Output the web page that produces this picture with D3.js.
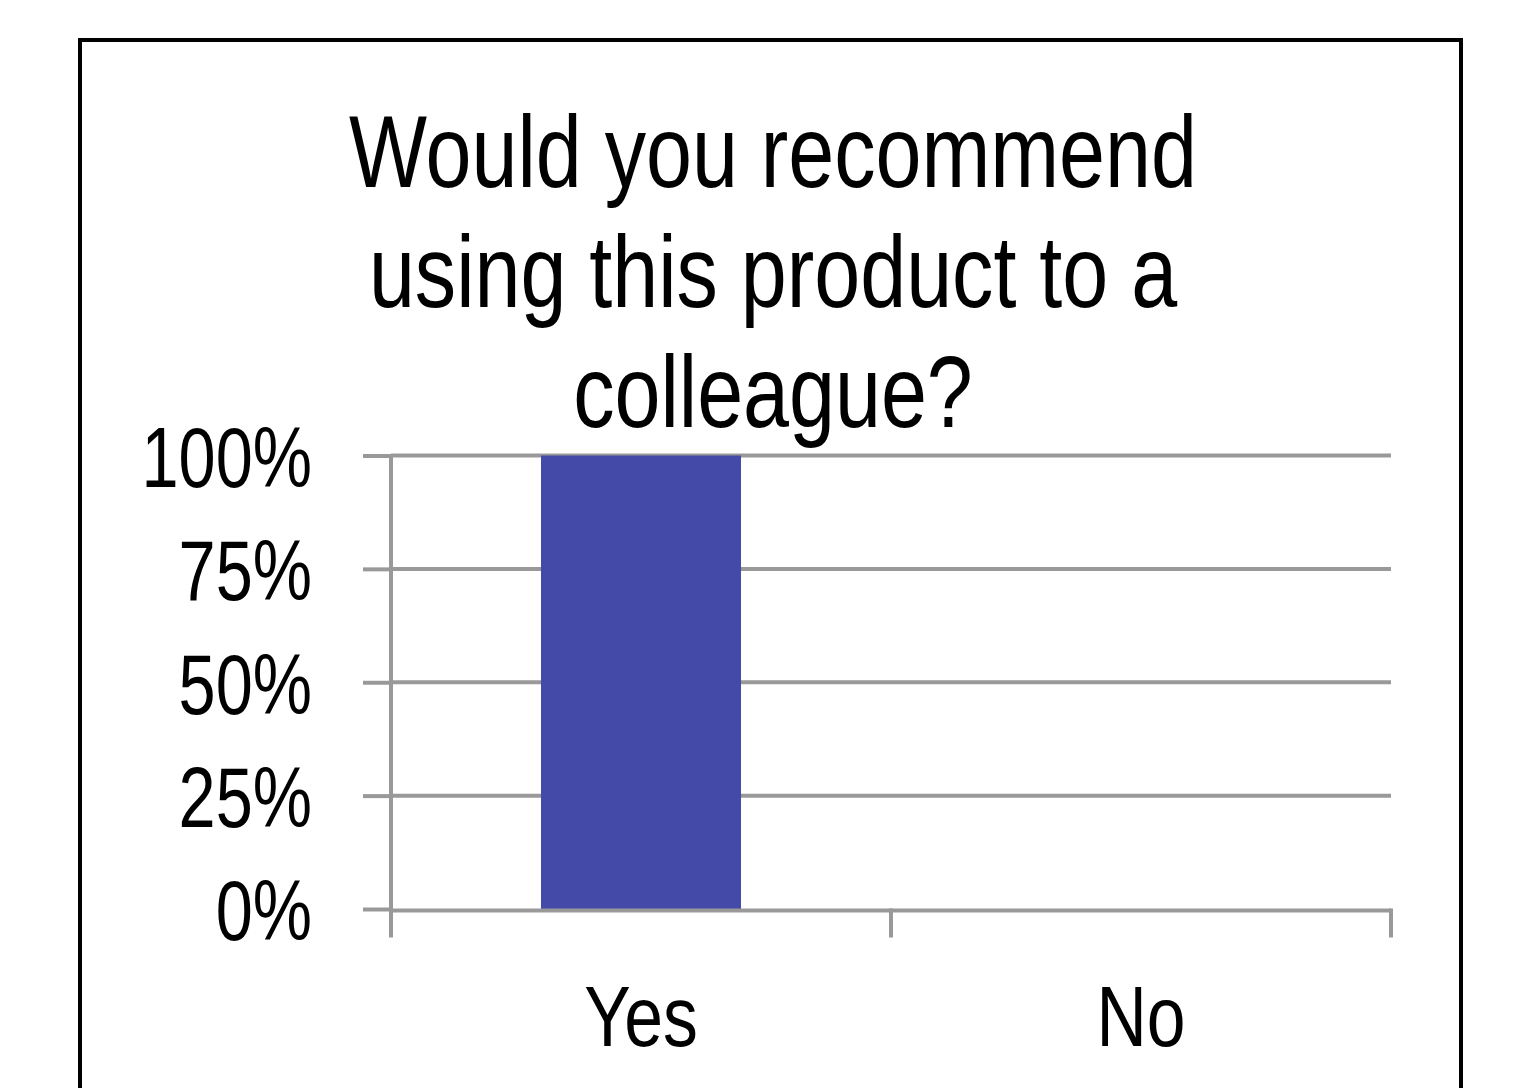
<!DOCTYPE html>
<html>
<head>
<meta charset="utf-8">
<script src="https://cdn.jsdelivr.net/npm/d3@7"></script>
<style>
  html, body { margin: 0; padding: 0; background: #fff; }
  svg { display: block; }
  text { font-family: "Liberation Sans Narrow", "Arial Narrow", "Liberation Sans", sans-serif; fill: #000; }
</style>
</head>
<body>
<svg id="chart" width="1523" height="1088"></svg>
<script>
const titleLines = ["Would you recommend", "using this product to a", "colleague?"];
const categories = ["Yes", "No"];
const values = [1.0, 0.0];
const yTicks = [0, 0.25, 0.5, 0.75, 1.0];
const yTickLabels = ["0%", "25%", "50%", "75%", "100%"];

const svg = d3.select("#chart");
const plot = { left: 391, right: 1391, top: 455.5, bottom: 909 };
const gridColor = "#999999";
const barColor = "#434AA8";
const narrow = 0.81;
const narrowY = 0.775;

// outer frame
svg.append("rect")
  .attr("x", 80).attr("y", 40)
  .attr("width", 1381).attr("height", 1100)
  .attr("fill", "none").attr("stroke", "#000").attr("stroke-width", 4);

const x = d3.scaleBand().domain(categories).range([plot.left, plot.right])
  .paddingInner(0.6).paddingOuter(0.3);
const xCat = d3.scaleBand().domain(categories).range([plot.left, plot.right]).padding(0);
const y = d3.scaleLinear().domain([0, 1]).range([plot.bottom, plot.top]);

// gridlines
svg.append("g").selectAll("line").data(yTicks.filter(d => d > 0)).join("line")
  .attr("x1", plot.left).attr("x2", plot.right)
  .attr("y1", d => y(d)).attr("y2", d => y(d))
  .attr("stroke", gridColor).attr("stroke-width", 4);

// y axis
const yAxis = d3.axisLeft(y).tickValues(yTicks).tickSize(28).tickPadding(50)
  .tickFormat((d, i) => yTickLabels[i]);
const gy = svg.append("g").attr("transform", `translate(${plot.left},0)`).call(yAxis);
gy.select(".domain").attr("stroke", gridColor).attr("stroke-width", 4).attr("d", `M0,${plot.top}V${plot.bottom}`);
gy.selectAll(".tick line").attr("stroke", gridColor).attr("stroke-width", 4);
gy.selectAll(".tick text")
  .attr("x", 0)
  .attr("dy", "0.36em")
  .attr("transform", `translate(-79,0) scale(${narrowY},1)`)
  .style("font-size", "86px")
  .style("font-family", "'Liberation Sans Narrow', 'Arial Narrow', 'Liberation Sans', sans-serif")
  .attr("fill", "#000");

// bars
svg.append("g").selectAll("rect").data(values).join("rect")
  .attr("x", (d, i) => x(categories[i]))
  .attr("width", x.bandwidth())
  .attr("y", d => y(d))
  .attr("height", d => y(0) - y(d))
  .attr("fill", barColor);

// x axis
const gx = svg.append("g").attr("transform", `translate(0,${plot.bottom + 1.5})`);
gx.append("line").attr("x1", plot.left).attr("x2", plot.right)
  .attr("y1", 0).attr("y2", 0).attr("stroke", gridColor).attr("stroke-width", 4);
const boundaries = [plot.left].concat(categories.map(c => xCat(c) + xCat.bandwidth()));
gx.selectAll("line.tk").data(boundaries).join("line").attr("class", "tk")
  .attr("x1", d => d).attr("x2", d => d).attr("y1", -2).attr("y2", 27)
  .attr("stroke", gridColor).attr("stroke-width", 4);
gx.selectAll("text").data(categories).join("text")
  .attr("transform", d => `translate(${xCat(d) + xCat.bandwidth() / 2},${1046 - plot.bottom - 1.5}) scale(${narrow},1)`)
  .attr("text-anchor", "middle")
  .style("font-size", "86px")
  .text(d => d);

// title
svg.append("g").selectAll("text").data(titleLines).join("text")
  .attr("transform", (d, i) => `translate(773,${187 + i * 120}) scale(${narrow},1)`)
  .attr("text-anchor", "middle")
  .style("font-size", "102px")
  .text(d => d);
</script>
</body>
</html>
